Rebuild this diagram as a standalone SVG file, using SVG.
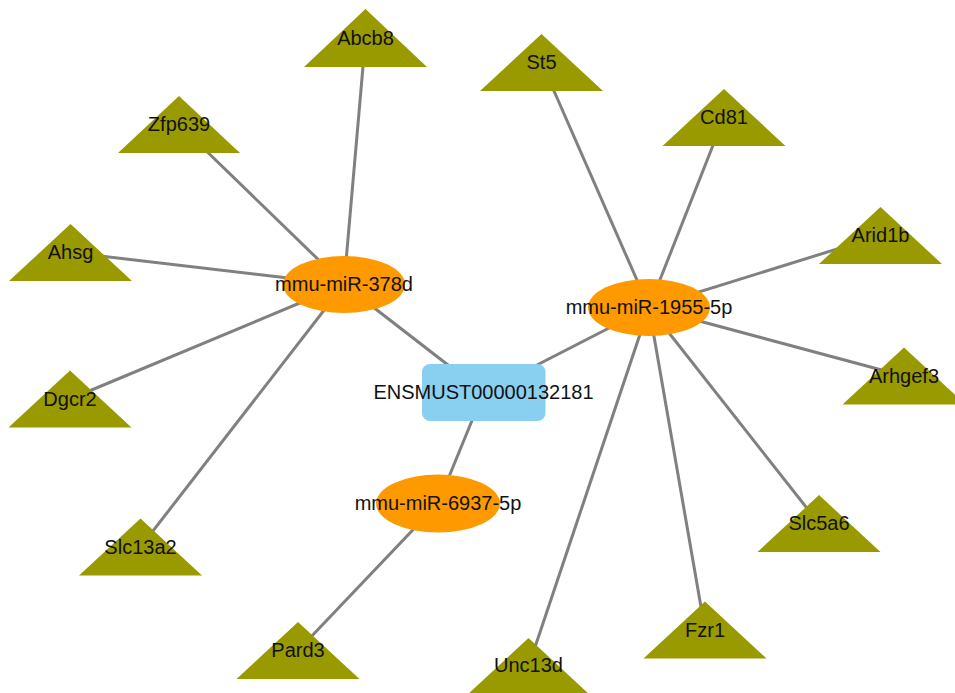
<svg xmlns="http://www.w3.org/2000/svg" width="955" height="693" viewBox="0 0 955 693">
<style>
.e{stroke:#808080;stroke-width:3;fill:none}
.t{fill:#999900}
.o{fill:#FF9900}
.r{fill:#89CFF0}
text{font-family:"Liberation Sans",Arial,sans-serif;font-size:20px;fill:#111;text-anchor:middle;dominant-baseline:central}
</style>
<rect width="955" height="693" fill="#fff"/>
<g id="edges">
<line class="e" x1="344" y1="284.5" x2="365.5" y2="38"/>
<line class="e" x1="344" y1="284.5" x2="179" y2="124.5"/>
<line class="e" x1="344" y1="284.5" x2="70.5" y2="252.5"/>
<line class="e" x1="344" y1="284.5" x2="70" y2="399"/>
<line class="e" x1="344" y1="284.5" x2="140.5" y2="547"/>
<line class="e" x1="344" y1="284.5" x2="483.5" y2="392.5"/>
<line class="e" x1="649" y1="307.5" x2="541.5" y2="62.5"/>
<line class="e" x1="649" y1="307.5" x2="724" y2="117.5"/>
<line class="e" x1="649" y1="307.5" x2="880.5" y2="235.5"/>
<line class="e" x1="649" y1="307.5" x2="904" y2="376"/>
<line class="e" x1="649" y1="307.5" x2="819" y2="523.5"/>
<line class="e" x1="649" y1="307.5" x2="705" y2="630"/>
<line class="e" x1="649" y1="307.5" x2="528.5" y2="666.5"/>
<line class="e" x1="649" y1="307.5" x2="483.5" y2="392.5"/>
<line class="e" x1="438" y1="503.5" x2="483.5" y2="392.5"/>
<line class="e" x1="438" y1="503.5" x2="298" y2="650.5"/>
</g>
<g id="Abcb8"><polygon class="t" points="365.5,9 427,67 304,67"/><text x="365.5" y="38">Abcb8</text></g>
<g id="Zfp639"><polygon class="t" points="179,96 240,153 118,153"/><text x="179" y="124">Zfp639</text></g>
<g id="Ahsg"><polygon class="t" points="70.5,224 132,281 9,281"/><text x="70.5" y="252">Ahsg</text></g>
<g id="Dgcr2"><polygon class="t" points="70,370.5 131.5,427.5 8.5,427.5"/><text x="70" y="398.5">Dgcr2</text></g>
<g id="Slc13a2"><polygon class="t" points="140.5,518.5 202,575.5 79,575.5"/><text x="140.5" y="546.5">Slc13a2</text></g>
<g id="St5"><polygon class="t" points="541.5,34 603,91 480,91"/><text x="541.5" y="62">St5</text></g>
<g id="Cd81"><polygon class="t" points="724,89 785.5,146 662.5,146"/><text x="724" y="117">Cd81</text></g>
<g id="Arid1b"><polygon class="t" points="880.5,207 942,264 819,264"/><text x="880.5" y="235">Arid1b</text></g>
<g id="Arhgef3"><polygon class="t" points="904,347.5 965.5,404.5 842.5,404.5"/><text x="904" y="376">Arhgef3</text></g>
<g id="Slc5a6"><polygon class="t" points="819,495 880.5,552 757.5,552"/><text x="819" y="523">Slc5a6</text></g>
<g id="Fzr1"><polygon class="t" points="705,601.5 766.5,658.5 643.5,658.5"/><text x="705" y="629.5">Fzr1</text></g>
<g id="Unc13d"><polygon class="t" points="528.5,638 590,695 467,695"/><text x="528.5" y="665">Unc13d</text></g>
<g id="Pard3"><polygon class="t" points="298,622 359.5,679 236.5,679"/><text x="298" y="649.5">Pard3</text></g>
<g id="mmu-miR-378d"><ellipse class="o" cx="344" cy="284.5" rx="61" ry="28.5"/><text x="344" y="284">mmu-miR-378d</text></g>
<g id="mmu-miR-1955-5p"><ellipse class="o" cx="649" cy="307.5" rx="61" ry="28.5"/><text x="649" y="307">mmu-miR-1955-5p</text></g>
<g id="mmu-miR-6937-5p"><ellipse class="o" cx="438" cy="503.5" rx="62" ry="29"/><text x="438" y="503">mmu-miR-6937-5p</text></g>
<g id="ENSMUST00000132181"><rect class="r" x="422" y="364" width="123.5" height="57" rx="8"/><text x="483.5" y="392">ENSMUST00000132181</text></g>
</svg>
